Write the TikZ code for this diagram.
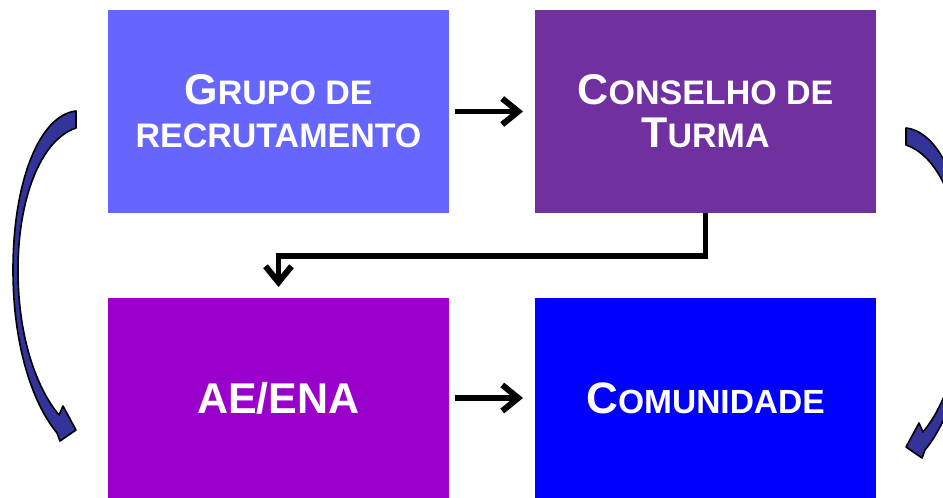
\documentclass[tikz,border=0pt]{standalone}
\usepackage{fontspec}
\setmainfont{Liberation Sans}
\usetikzlibrary{arrows.meta}
\definecolor{boxA}{HTML}{6666FF}
\definecolor{boxB}{HTML}{7030A0}
\definecolor{boxC}{HTML}{9900CC}
\definecolor{boxD}{HTML}{0000FF}
\definecolor{arcfill}{HTML}{333399}
\newcommand\bigL[1]{{\fontsize{21.5pt}{21.5pt}\selectfont #1}}
\newcommand\bigM[1]{{\fontsize{22pt}{24pt}\selectfont #1}}
\begin{document}
\begin{tikzpicture}[x=0.5pt,y=-0.5pt,
  box/.style={minimum width=170.5pt, minimum height=101.5pt, inner sep=0pt, outer sep=0pt,
    text=white, font=\bfseries\fontsize{17pt}{21.5pt}\selectfont, align=center},
  lowbox/.style={box, minimum height=100pt, font=\bfseries\fontsize{16.75pt}{21.5pt}\selectfont},
  flow/.style={line width=2.7pt, -{Straight Barb[length=8pt,width=13pt,line width=3pt]}},
  bendarrow/.style={fill=arcfill, draw=black, line width=0.8pt, line join=round}]
\useasboundingbox (0,0) rectangle (943,498);
\fill[white] (0,0) rectangle (943,498);
\node[box, fill=boxA] (grupo) at (278.5,111.5) {\bigL{G}RUPO DE\\RECRUTAMENTO};
\node[box, fill=boxB] (conselho) at (705.5,111.5) {\bigL{C}ONSELHO DE\\\bigL{T}URMA};
\node[lowbox, fill=boxC] (aeena) at (278.5,398) {\fontsize{21.5pt}{24pt}\selectfont AE/ENA};
\node[lowbox, fill=boxD] (comunidade) at (705.5,398) {\bigM{C}OMUNIDADE};
\draw[flow, shorten <=3pt, shorten >=6pt] (grupo) -- (conselho);
\draw[flow, shorten <=3pt, shorten >=6pt] (aeena) -- (comunidade);
\draw[flow, shorten >=5.5pt] (conselho.south) -- ++(0,43) -| (aeena.north);
% left curved arrow
\path[bendarrow] (76,111) .. controls (40,115) and (13,180) .. (13,270)
  .. controls (13,340) and (30,400) .. (57,433) -- (60,441) -- (76,430) -- (63,406) -- (59,415)
  .. controls (38,390) and (18,340) .. (18,270) .. controls (18,200) and (40,140) .. (76,128) -- cycle;
% right curved arrow (mirror)
\begin{scope}[shift={(982,17)}, xscale=-1]
\path[bendarrow] (76,111) .. controls (40,115) and (13,180) .. (13,270)
  .. controls (13,340) and (30,400) .. (57,433) -- (60,441) -- (76,430) -- (63,406) -- (59,415)
  .. controls (38,390) and (18,340) .. (18,270) .. controls (18,200) and (40,140) .. (76,128) -- cycle;
\end{scope}
\end{tikzpicture}
\end{document}
